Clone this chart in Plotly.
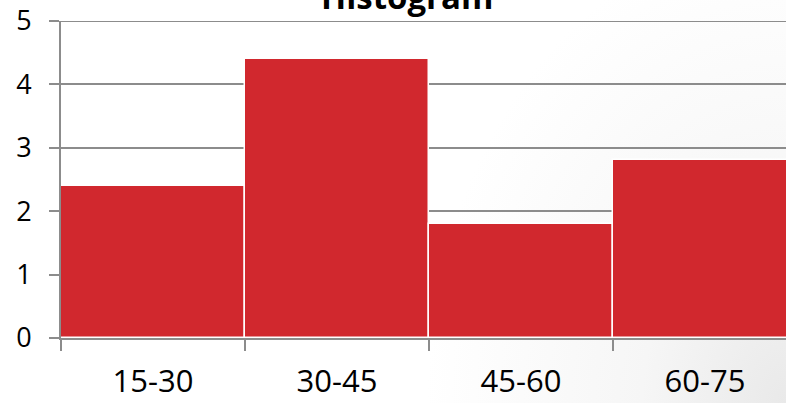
import base64
import plotly.graph_objects as go

# Histogram bins and counts
bins = ["15-30", "30-45", "45-60", "60-75"]
counts = [2.4, 4.4, 1.8, 2.8]
y_ticks = [0, 1, 2, 3, 4, 5]

BAR_RED = "#D1282E"
AXIS_GRAY = "#8C8C8C"
FONT = "Open Sans, Liberation Sans, sans-serif"

W, H = 786, 403
L, T, B = 61, 21, 65
plot_w = W - L
plot_h = H - T - B
cat_px = 184  # width of one category band in pixels

# soft grey shading that darkens towards the lower-right corner
svg = f"""<svg xmlns='http://www.w3.org/2000/svg' width='{W}' height='{H}'>
<defs><radialGradient id='g' cx='{W}' cy='{H}' r='360' gradientUnits='userSpaceOnUse'
 gradientTransform='translate({W} {H}) scale(1 1.3) translate({-W} {-H})'>
<stop offset='0' stop-color='#e9e9e9'/><stop offset='0.4' stop-color='#f6f6f6'/>
<stop offset='1' stop-color='#ffffff'/></radialGradient></defs>
<rect width='{W}' height='{H}' fill='url(#g)'/></svg>"""
bg_src = "data:image/svg+xml;base64," + base64.b64encode(svg.encode()).decode()

fig = go.Figure(
    go.Bar(
        x=bins,
        y=counts,
        marker=dict(color=BAR_RED, line=dict(color="white", width=1.5)),
        hoverinfo="x+y",
    )
)

fig.update_layout(
    width=W,
    height=H,
    margin=dict(l=L, r=0, t=T, b=B, autoexpand=False),
    paper_bgcolor="white",
    plot_bgcolor="rgba(0,0,0,0)",
    bargap=0,
    showlegend=False,
    annotations=[
        dict(
            text="<b>Histogram</b>",
            xref="paper",
            yref="paper",
            x=(407 - L) / plot_w,
            y=1 + (T + 4) / plot_h,
            xanchor="center",
            yanchor="middle",
            showarrow=False,
            font=dict(family=FONT, size=33, color="black"),
        )
    ],
    # top gridline at the upper end of the value range
    shapes=[
        dict(
            type="line",
            xref="paper",
            yref="y",
            x0=0,
            x1=1,
            y0=y_ticks[-1],
            y1=y_ticks[-1],
            line=dict(color=AXIS_GRAY, width=2),
            layer="above",
        )
    ],
    images=[
        dict(
            source=bg_src,
            xref="paper",
            yref="paper",
            x=-L / plot_w,
            y=1 + T / plot_h,
            sizex=W / plot_w,
            sizey=H / plot_h,
            xanchor="left",
            yanchor="top",
            sizing="stretch",
            layer="below",
        )
    ],
    xaxis=dict(
        type="category",
        range=[-0.5, -0.5 + plot_w / cat_px],
        automargin=False,
        showgrid=False,
        showline=True,
        linecolor=AXIS_GRAY,
        linewidth=2,
        ticks="outside",
        tickson="boundaries",
        ticklen=11,
        tickwidth=2,
        tickcolor=AXIS_GRAY,
        ticklabelstandoff=15,
        tickfont=dict(family=FONT, size=31, color="black"),
        zeroline=False,
        fixedrange=True,
    ),
    yaxis=dict(
        range=[0, 5],
        tickvals=y_ticks,
        automargin=False,
        showgrid=True,
        gridcolor=AXIS_GRAY,
        gridwidth=2,
        showline=True,
        linecolor=AXIS_GRAY,
        linewidth=2,
        ticks="outside",
        ticklen=10,
        tickwidth=2,
        tickcolor=AXIS_GRAY,
        ticklabelstandoff=12,
        tickfont=dict(family=FONT, size=27, color="black"),
        zeroline=False,
        fixedrange=True,
    ),
)

fig.write_html("out.html")
